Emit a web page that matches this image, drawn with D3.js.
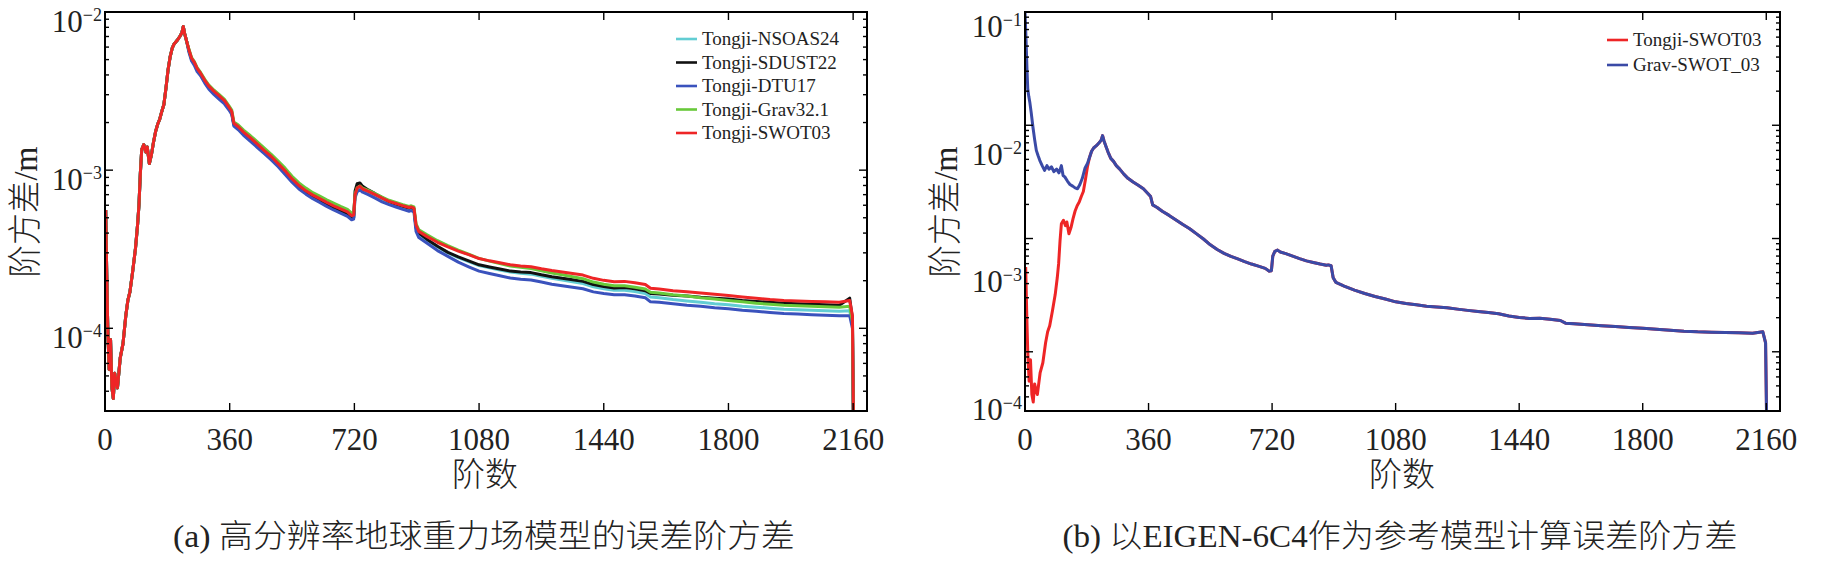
<!DOCTYPE html>
<html>
<head>
<meta charset="utf-8">
<script src="https://cdn.jsdelivr.net/npm/d3@7"></script>
<style>
  html, body { margin: 0; padding: 0; background: #fff; }
  svg { display: block; }
  svg text { font-family: "Liberation Serif", "Times New Roman", "Noto Sans CJK SC", serif; fill: #222; }
</style>
</head>
<body>
<svg id="chart" width="1826" height="565"></svg>
<script>
// ---- data ----
const degTicks = [0, 360, 720, 1080, 1440, 1800, 2160];

// low degrees: all five curves of panel (a) coincide here (red on top)
const lowDeg = [2, 5, 8, 12, 16, 20, 24, 28, 32, 36, 44, 52, 60, 66, 72, 80, 88, 94, 98, 102,
  106, 112, 118, 122, 128, 134, 140, 146, 152, 158, 164, 170, 176, 182, 188, 194, 200, 208, 216, 222,
  226, 230, 236];
const lowCommon = [5.6e-4, 2.2e-4, 1.0e-4, 5.5e-5, 8.5e-5, 4.2e-5, 3.6e-5, 5.2e-5, 4.6e-5, 4.2e-5,
  6.5e-5, 8.0e-5, 1.2e-4, 1.5e-4, 1.7e-4, 2.3e-4, 3.2e-4, 4.5e-4, 6.0e-4, 9.5e-4,
  1.35e-3, 1.45e-3, 1.3e-3, 1.4e-3, 1.1e-3, 1.25e-3, 1.5e-3, 1.75e-3, 1.95e-3, 2.1e-3,
  2.35e-3, 2.6e-3, 3.3e-3, 4.3e-3, 5.2e-3, 5.9e-3, 6.3e-3, 6.6e-3, 7.0e-3, 7.4e-3,
  8.1e-3, 7.3e-3, 6.5e-3];

const highDeg = [242, 250, 258, 266, 276, 288, 300, 315, 330, 345, 358, 366, 372, 385, 400,
  420, 440, 460, 480, 500, 520, 540, 560, 580, 600, 620, 640, 660, 680, 700,
  712, 718, 722, 728, 736, 744, 760, 780, 800, 820, 840, 860, 878, 884, 892, 898, 906,
  930, 960, 990, 1020, 1050, 1080, 1110, 1140, 1170, 1200, 1230, 1260, 1290, 1320, 1350, 1380,
  1410, 1440, 1470, 1500, 1530, 1560, 1575, 1600, 1640, 1680, 1720, 1760, 1800, 1840, 1880,
  1920, 1960, 2000, 2040, 2080, 2120, 2150, 2158, 2162];

const nsoas24 = [5.7e-3, 5.0e-3, 4.7e-3, 4.3e-3, 4.0e-3, 3.6e-3, 3.3e-3, 3.07e-3, 2.87e-3, 2.67e-3, 2.44e-3, 2.28e-3, 1.93e-3, 1.83e-3, 1.69e-3,
  1.55e-3, 1.42e-3, 1.29e-3, 1.18e-3, 1.06e-3, 9.6e-4, 8.55e-4, 7.75e-4, 7.15e-4, 6.75e-4, 6.4e-4, 6.05e-4, 5.75e-4, 5.5e-4, 5.25e-4,
  4.95e-4, 5.0e-4, 6.9e-4, 7.5e-4, 7.7e-4, 7.45e-4, 7.2e-4, 6.85e-4, 6.5e-4, 6.2e-4, 6.0e-4, 5.8e-4, 5.65e-4, 5.7e-4, 5.6e-4, 4.3e-4, 3.95e-4,
  3.6e-4, 3.27e-4, 3.0e-4, 2.8e-4, 2.64e-4, 2.49e-4, 2.41e-4, 2.34e-4, 2.27e-4, 2.23e-4, 2.2e-4, 2.13e-4, 2.07e-4, 2.02e-4, 1.97e-4, 1.92e-4,
  1.83e-4, 1.78e-4, 1.74e-4, 1.74e-4, 1.71e-4, 1.66e-4, 1.58e-4, 1.56e-4, 1.52e-4, 1.49e-4, 1.46e-4, 1.43e-4, 1.41e-4, 1.38e-4, 1.36e-4,
  1.34e-4, 1.32e-4, 1.31e-4, 1.3e-4, 1.29e-4, 1.28e-4, 1.29e-4, 1.05e-4, 1.25e-5];

const sdust22 = [5.75e-3, 5.05e-3, 4.75e-3, 4.35e-3, 4.05e-3, 3.65e-3, 3.35e-3, 3.1e-3, 2.9e-3, 2.7e-3, 2.46e-3, 2.3e-3, 1.95e-3, 1.85e-3, 1.71e-3,
  1.57e-3, 1.43e-3, 1.3e-3, 1.19e-3, 1.07e-3, 9.7e-4, 8.6e-4, 7.8e-4, 7.2e-4, 6.8e-4, 6.45e-4, 6.1e-4, 5.8e-4, 5.55e-4, 5.3e-4,
  4.95e-4, 5.0e-4, 7.4e-4, 8.2e-4, 8.3e-4, 7.9e-4, 7.5e-4, 7.1e-4, 6.7e-4, 6.35e-4, 6.1e-4, 5.9e-4, 5.75e-4, 5.8e-4, 5.7e-4, 4.35e-4, 4.0e-4,
  3.65e-4, 3.3e-4, 3.02e-4, 2.83e-4, 2.67e-4, 2.52e-4, 2.44e-4, 2.37e-4, 2.3e-4, 2.27e-4, 2.25e-4, 2.18e-4, 2.12e-4, 2.07e-4, 2.03e-4, 1.98e-4,
  1.89e-4, 1.84e-4, 1.8e-4, 1.81e-4, 1.78e-4, 1.73e-4, 1.66e-4, 1.65e-4, 1.62e-4, 1.6e-4, 1.57e-4, 1.55e-4, 1.53e-4, 1.5e-4, 1.48e-4,
  1.46e-4, 1.44e-4, 1.43e-4, 1.42e-4, 1.41e-4, 1.4e-4, 1.55e-4, 1.15e-4, 1.4e-5];

const dtu17 = [5.6e-3, 4.9e-3, 4.6e-3, 4.2e-3, 3.95e-3, 3.55e-3, 3.25e-3, 3.0e-3, 2.8e-3, 2.62e-3, 2.4e-3, 2.25e-3, 1.9e-3, 1.8e-3, 1.66e-3,
  1.52e-3, 1.39e-3, 1.27e-3, 1.16e-3, 1.05e-3, 9.4e-4, 8.4e-4, 7.6e-4, 7.05e-4, 6.6e-4, 6.25e-4, 5.9e-4, 5.6e-4, 5.35e-4, 5.1e-4,
  4.85e-4, 4.9e-4, 6.7e-4, 7.3e-4, 7.5e-4, 7.25e-4, 7.0e-4, 6.65e-4, 6.3e-4, 6.05e-4, 5.85e-4, 5.65e-4, 5.5e-4, 5.55e-4, 5.45e-4, 4.1e-4, 3.75e-4,
  3.45e-4, 3.1e-4, 2.85e-4, 2.62e-4, 2.45e-4, 2.3e-4, 2.22e-4, 2.15e-4, 2.08e-4, 2.04e-4, 2.02e-4, 1.96e-4, 1.9e-4, 1.86e-4, 1.82e-4, 1.78e-4,
  1.7e-4, 1.66e-4, 1.63e-4, 1.63e-4, 1.6e-4, 1.56e-4, 1.47e-4, 1.46e-4, 1.43e-4, 1.4e-4, 1.38e-4, 1.35e-4, 1.33e-4, 1.3e-4, 1.28e-4,
  1.26e-4, 1.24e-4, 1.23e-4, 1.22e-4, 1.21e-4, 1.2e-4, 1.2e-4, 1.0e-4, 1.2e-5];

const grav321 = [5.85e-3, 5.15e-3, 4.85e-3, 4.45e-3, 4.15e-3, 3.75e-3, 3.45e-3, 3.2e-3, 3.0e-3, 2.8e-3, 2.55e-3, 2.4e-3, 2.02e-3, 1.93e-3, 1.79e-3,
  1.65e-3, 1.51e-3, 1.38e-3, 1.26e-3, 1.14e-3, 1.03e-3, 9.15e-4, 8.3e-4, 7.7e-4, 7.2e-4, 6.85e-4, 6.5e-4, 6.2e-4, 5.9e-4, 5.65e-4,
  5.35e-4, 5.35e-4, 7.1e-4, 7.75e-4, 7.95e-4, 7.7e-4, 7.45e-4, 7.1e-4, 6.75e-4, 6.45e-4, 6.25e-4, 6.05e-4, 5.9e-4, 5.95e-4, 5.85e-4, 4.6e-4, 4.2e-4,
  3.9e-4, 3.58e-4, 3.33e-4, 3.12e-4, 2.94e-4, 2.77e-4, 2.66e-4, 2.57e-4, 2.48e-4, 2.43e-4, 2.39e-4, 2.31e-4, 2.24e-4, 2.18e-4, 2.12e-4, 2.06e-4,
  1.96e-4, 1.9e-4, 1.86e-4, 1.86e-4, 1.82e-4, 1.77e-4, 1.69e-4, 1.67e-4, 1.63e-4, 1.6e-4, 1.56e-4, 1.53e-4, 1.5e-4, 1.47e-4, 1.44e-4,
  1.42e-4, 1.4e-4, 1.39e-4, 1.38e-4, 1.37e-4, 1.36e-4, 1.38e-4, 1.1e-4, 1.3e-5];

const swot03 = [5.8e-3, 5.1e-3, 4.8e-3, 4.4e-3, 4.1e-3, 3.7e-3, 3.4e-3, 3.15e-3, 2.95e-3, 2.75e-3, 2.5e-3, 2.35e-3, 1.98e-3, 1.88e-3, 1.74e-3,
  1.6e-3, 1.46e-3, 1.33e-3, 1.22e-3, 1.1e-3, 9.9e-4, 8.8e-4, 8.0e-4, 7.4e-4, 6.95e-4, 6.6e-4, 6.25e-4, 5.95e-4, 5.7e-4, 5.45e-4,
  5.15e-4, 5.2e-4, 7.0e-4, 7.7e-4, 7.9e-4, 7.6e-4, 7.35e-4, 7.0e-4, 6.65e-4, 6.35e-4, 6.15e-4, 5.95e-4, 5.8e-4, 5.85e-4, 5.75e-4, 4.5e-4, 4.1e-4,
  3.8e-4, 3.5e-4, 3.27e-4, 3.08e-4, 2.92e-4, 2.76e-4, 2.67e-4, 2.6e-4, 2.52e-4, 2.48e-4, 2.45e-4, 2.38e-4, 2.32e-4, 2.27e-4, 2.22e-4, 2.17e-4,
  2.07e-4, 2.01e-4, 1.97e-4, 1.98e-4, 1.94e-4, 1.89e-4, 1.79e-4, 1.77e-4, 1.73e-4, 1.7e-4, 1.67e-4, 1.64e-4, 1.61e-4, 1.58e-4, 1.55e-4,
  1.52e-4, 1.5e-4, 1.49e-4, 1.48e-4, 1.47e-4, 1.46e-4, 1.5e-4, 1.2e-4, 1.5e-5];

// panel (b): Grav-SWOT_03 at low degrees, it coincides with Tongji-SWOT03 above degree 240
const gravSwotLowDeg = [0, 2, 4, 6, 8, 11, 14, 18, 23, 28, 33, 38, 43, 50, 57, 64, 70, 77, 84, 92,
  99, 106, 111, 116, 124, 131, 139, 146, 153, 160, 167, 175, 182, 188, 194, 200, 208, 216, 222, 226,
  230, 236];
const gravSwotLow = [1.0e-1, 7.0e-2, 4.6e-2, 3.0e-2, 2.1e-2, 1.8e-2, 1.6e-2, 1.3e-2, 9.7e-3, 7.5e-3,
  6.0e-3, 5.4e-3, 4.9e-3, 4.4e-3, 4.0e-3, 4.4e-3, 4.1e-3, 4.3e-3, 3.9e-3, 4.1e-3,
  3.8e-3, 4.4e-3, 3.6e-3, 3.5e-3, 3.2e-3, 3.0e-3, 2.9e-3, 2.8e-3, 2.75e-3, 3.0e-3,
  3.4e-3, 4.2e-3, 4.6e-3, 5.2e-3, 5.9e-3, 6.3e-3, 6.6e-3, 7.0e-3, 7.4e-3, 8.1e-3,
  7.3e-3, 6.5e-3];

const leftNames = ["Tongji-NSOAS24", "Tongji-SDUST22", "Tongji-DTU17", "Tongji-Grav32.1", "Tongji-SWOT03"];
const leftColors = ["#62cdd3", "#111111", "#3a52bd", "#68c93a", "#ee2526"];
const rightNames = ["Tongji-SWOT03", "Grav-SWOT_03"];
const rightColors = ["#ee2526", "#3a4aa6"];

(function () {
    const svg = d3.select("#chart");
    svg.append("rect").attr("width", 1826).attr("height", 565).attr("fill", "#fff");

    const pts = (degs, vals) => degs.map((d, i) => [d, vals[i]]);

    function panel(cfg) {
        const x = d3.scaleLinear().domain([0, 2200]).range([cfg.x0, cfg.x1]);
        const y = d3.scaleLog().domain(cfg.yDomain).range([cfg.y1, cfg.y0]);
        const g = svg.append("g");

        g.append("clipPath").attr("id", cfg.id + "-clip")
            .append("rect")
            .attr("x", cfg.x0).attr("y", cfg.y0)
            .attr("width", cfg.x1 - cfg.x0).attr("height", cfg.y1 - cfg.y0);

        const line = d3.line().x(d => x(d[0])).y(d => y(d[1]));
        const gLines = g.append("g").attr("clip-path", `url(#${cfg.id}-clip)`);
        cfg.series.forEach(s => {
            gLines.append("path")
                .attr("d", line(s.points))
                .attr("fill", "none")
                .attr("stroke", s.color)
                .attr("stroke-width", 3)
                .attr("stroke-linejoin", "round");
        });

        // ticks, pointing inward on all four sides
        const [lo, hi] = cfg.yDomain;
        const majors = [], minors = [];
        for (let e = Math.floor(Math.log10(lo)); e <= Math.ceil(Math.log10(hi)); e++) {
            for (let k = 1; k <= 9; k++) {
                const v = k * Math.pow(10, e);
                if (v < lo * 0.999 || v > hi * 1.001) continue;
                (k === 1 ? majors : minors).push(v);
            }
        }
        const tickG = g.append("g").attr("stroke", "#000").attr("stroke-width", 1.4);
        degTicks.forEach(d => {
            tickG.append("line").attr("x1", x(d)).attr("x2", x(d)).attr("y1", cfg.y1).attr("y2", cfg.y1 - 8);
            tickG.append("line").attr("x1", x(d)).attr("x2", x(d)).attr("y1", cfg.y0).attr("y2", cfg.y0 + 8);
        });
        majors.forEach(v => {
            tickG.append("line").attr("x1", cfg.x0).attr("x2", cfg.x0 + 8).attr("y1", y(v)).attr("y2", y(v));
            tickG.append("line").attr("x1", cfg.x1).attr("x2", cfg.x1 - 8).attr("y1", y(v)).attr("y2", y(v));
        });
        minors.forEach(v => {
            tickG.append("line").attr("x1", cfg.x0).attr("x2", cfg.x0 + 4).attr("y1", y(v)).attr("y2", y(v));
            tickG.append("line").attr("x1", cfg.x1).attr("x2", cfg.x1 - 4).attr("y1", y(v)).attr("y2", y(v));
        });

        g.append("rect")
            .attr("x", cfg.x0).attr("y", cfg.y0)
            .attr("width", cfg.x1 - cfg.x0).attr("height", cfg.y1 - cfg.y0)
            .attr("fill", "none").attr("stroke", "#000").attr("stroke-width", 2);

        // x tick labels
        degTicks.forEach(d => {
            g.append("text")
                .attr("x", x(d)).attr("y", cfg.y1 + 39)
                .attr("text-anchor", "middle")
                .style("font-size", "31px")
                .text(d);
        });

        // y tick labels, 10^n (positions as laid out in the figure)
        cfg.labelVals.forEach(v => {
            const t = g.append("text")
                .attr("x", cfg.x0 - 3).attr("y", cfg.labelY(v))
                .attr("text-anchor", "end")
                .style("font-size", "31px");
            t.append("tspan").text("10");
            t.append("tspan").attr("dy", -11).style("font-size", "18px")
                .text("\u2212" + Math.round(-Math.log10(v)));
        });

        // axis titles
        g.append("text")
            .attr("transform", `translate(${cfg.x0 - 80},212) rotate(-90)`)
            .attr("text-anchor", "middle").attr("dy", "0.35em")
            .style("font-size", "34px").style("font-weight", 300)
            .attr("textLength", 131).attr("lengthAdjust", "spacingAndGlyphs")
            .text("阶方差/m");
        g.append("text")
            .attr("x", cfg.xTitle).attr("y", 486)
            .attr("text-anchor", "middle")
            .style("font-size", "33px").style("font-weight", 300)
            .text("阶数");
        g.append("text")
            .attr("x", cfg.capX).attr("y", 547)
            .attr("text-anchor", "middle")
            .style("font-size", "32px").style("font-weight", 300)
            .attr("textLength", cfg.capW).attr("lengthAdjust", "spacingAndGlyphs")
            .text(cfg.caption);

        // legend (no frame)
        cfg.legend.names.forEach((n, i) => {
            const ly = cfg.legend.y + i * cfg.legend.step;
            g.append("line")
                .attr("x1", cfg.legend.x).attr("x2", cfg.legend.x + 21)
                .attr("y1", ly).attr("y2", ly)
                .attr("stroke", cfg.legend.colors[i]).attr("stroke-width", 2.6);
            g.append("text")
                .attr("x", cfg.legend.x + 26).attr("y", ly + 6)
                .style("font-size", "19px")
                .text(n);
        });
        return { x, y };
    }

    const leftVals = [nsoas24, sdust22, dtu17, grav321, swot03];
    panel({
        id: "pa", x0: 105, x1: 867, y0: 12, y1: 411,
        yDomain: [3e-5, 1e-2],
        labelVals: [1e-2, 1e-3, 1e-4],
        labelY: d3.scaleLog().domain([1e-2, 1e-4]).range([32, 348]),
        series: leftVals.map((vals, i) => ({
            color: leftColors[i],
            points: pts(lowDeg, lowCommon).concat(pts(highDeg, vals))
        })),
        xTitle: 485, capX: 484, capW: 622,
        caption: "(a) 高分辨率地球重力场模型的误差阶方差",
        legend: { x: 676, y: 39, step: 23.5, names: leftNames, colors: leftColors }
    });

    panel({
        id: "pb", x0: 1025, x1: 1780, y0: 12, y1: 411,
        yDomain: [3e-5, 1e-1],
        labelVals: [1e-1, 1e-2, 1e-3, 1e-4],
        labelY: d3.scaleLog().domain([1e-1, 1e-4]).range([37, 420]),
        series: [
            { color: rightColors[0], points: pts(lowDeg, lowCommon).concat(pts(highDeg, swot03)) },
            { color: rightColors[1], points: pts(gravSwotLowDeg, gravSwotLow).concat(pts(highDeg, swot03)) }
        ],
        xTitle: 1402, capX: 1400, capW: 675,
        caption: "(b) 以EIGEN-6C4作为参考模型计算误差阶方差",
        legend: { x: 1607, y: 40, step: 25, names: rightNames, colors: rightColors }
    });
})();
</script>
</body>
</html>
